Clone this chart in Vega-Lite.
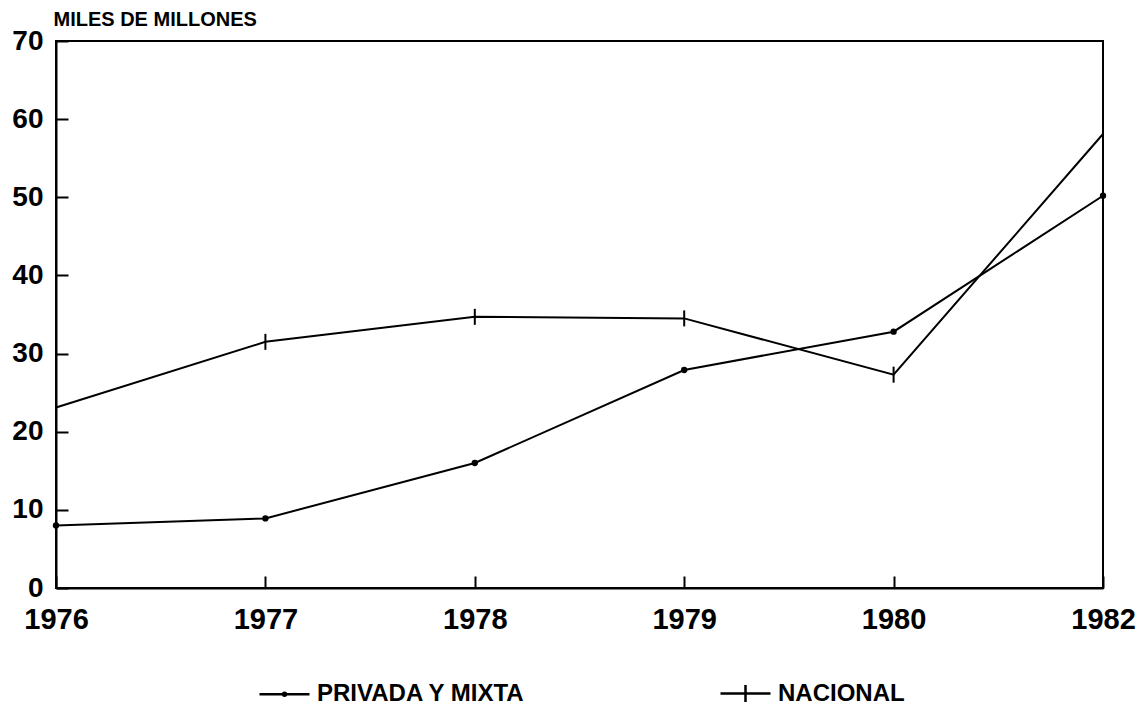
{
  "$schema": "https://vega.github.io/schema/vega-lite/v6.json",
  "width": 1047,
  "height": 547,
  "autosize": {"type": "none"},
  "padding": {"left": 56, "top": 41, "right": 37, "bottom": 138},
  "background": "white",
  "data": {
    "values": [
      {"year": "1976", "serie": "PRIVADA Y MIXTA", "valor": 8.0},
      {"year": "1977", "serie": "PRIVADA Y MIXTA", "valor": 8.9},
      {"year": "1978", "serie": "PRIVADA Y MIXTA", "valor": 16.0},
      {"year": "1979", "serie": "PRIVADA Y MIXTA", "valor": 27.9},
      {"year": "1980", "serie": "PRIVADA Y MIXTA", "valor": 32.8},
      {"year": "1982", "serie": "PRIVADA Y MIXTA", "valor": 50.2},
      {"year": "1976", "serie": "NACIONAL", "valor": 23.1},
      {"year": "1977", "serie": "NACIONAL", "valor": 31.5},
      {"year": "1978", "serie": "NACIONAL", "valor": 34.7},
      {"year": "1979", "serie": "NACIONAL", "valor": 34.5},
      {"year": "1980", "serie": "NACIONAL", "valor": 27.3},
      {"year": "1982", "serie": "NACIONAL", "valor": 58.1}
    ]
  },
  "encoding": {
    "x": {
      "field": "year",
      "type": "ordinal",
      "scale": {"type": "point", "padding": 0, "domain": ["1976", "1977", "1978", "1979", "1980", "1982"]},
      "axis": {
        "title": null,
        "labelAngle": 0,
        "labelFont": "Liberation Sans",
        "labelFontWeight": "bold",
        "labelFontSize": 29,
        "labelColor": "black",
        "labelPadding": 29,
        "labelBaseline": "top",
        "labelFlush": false,
        "tickSize": -12,
        "tickWidth": 2,
        "tickColor": "black",
        "domainColor": "black",
        "domainWidth": 2,
        "grid": false
      }
    },
    "y": {
      "field": "valor",
      "type": "quantitative",
      "scale": {"domain": [0, 70], "nice": false},
      "axis": {
        "values": [0, 10, 20, 30, 40, 50, 60, 70],
        "title": "MILES DE MILLONES",
        "titleAngle": 0,
        "titleX": -3,
        "titleY": -16,
        "titleAlign": "left",
        "titleBaseline": "alphabetic",
        "titleFont": "Liberation Sans",
        "titleFontWeight": "bold",
        "titleFontSize": 20,
        "titleColor": "black",
        "labelFont": "Liberation Sans",
        "labelFontWeight": "bold",
        "labelFontSize": 28,
        "labelColor": "black",
        "labelPadding": 25,
        "labelFlush": false,
        "tickSize": -12,
        "tickWidth": 2,
        "tickColor": "black",
        "domainColor": "black",
        "domainWidth": 2,
        "grid": false
      }
    }
  },
  "layer": [
    {
      "mark": {"type": "line", "color": "black", "strokeWidth": 2},
      "encoding": {"detail": {"field": "serie"}}
    },
    {
      "transform": [{"filter": "datum.serie === 'PRIVADA Y MIXTA'"}],
      "mark": {"type": "point", "shape": "circle", "filled": true, "color": "black", "size": 40, "opacity": 1}
    },
    {
      "transform": [{"filter": "datum.serie === 'NACIONAL'"}],
      "mark": {"type": "point", "shape": "M0,-1V1", "filled": false, "color": "black", "strokeWidth": 2, "size": 256, "opacity": 1}
    },
    {
      "mark": {"type": "point", "filled": false, "color": "black", "opacity": 0},
      "encoding": {
        "shape": {
          "field": "serie",
          "type": "nominal",
          "scale": {
            "domain": ["PRIVADA Y MIXTA", "NACIONAL"],
            "range": [
              "M-1,0H1M0.06,0A0.06,0.06,0,1,1,-0.06,0A0.06,0.06,0,1,1,0.06,0Z",
              "M-1,0H1M0,-0.34V0.34"
            ]
          },
          "legend": {
            "title": null,
            "orient": "none",
            "direction": "horizontal",
            "legendX": 202,
            "legendY": 626,
            "symbolSize": 2500,
            "symbolStrokeWidth": 2.5,
            "symbolStrokeColor": "black",
            "symbolOpacity": 1,
            "labelFont": "Liberation Sans",
            "labelFontWeight": "bold",
            "labelFontSize": 24,
            "labelColor": "black",
            "labelOffset": 6,
            "labelLimit": 400,
            "columnPadding": 189
          }
        }
      }
    }
  ],
  "config": {
    "view": {"stroke": "black", "strokeWidth": 2}
  }
}
